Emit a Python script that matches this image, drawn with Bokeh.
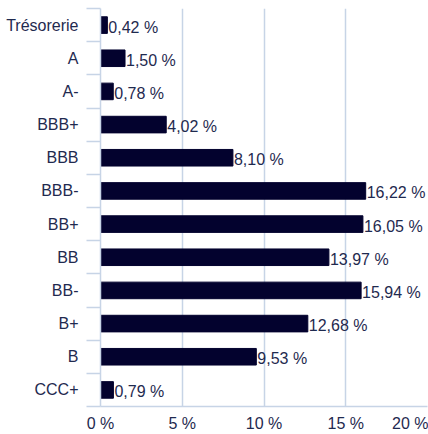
from bokeh.plotting import figure
from bokeh.models import Range1d, FixedTicker, ColumnDataSource
from bokeh.core.properties import value
from bokeh.embed import file_html
from bokeh.resources import INLINE

categories = ["Trésorerie", "A", "A-", "BBB+", "BBB", "BBB-", "BB+", "BB", "BB-", "B+", "B", "CCC+"]
values = [0.42, 1.50, 0.78, 4.02, 8.10, 16.22, 16.05, 13.97, 15.94, 12.68, 9.53, 0.79]
x_ticks = [0, 5, 10, 15, 20]

FONT = "Liberation Sans"
TEXT = "#1f2a4f"
BAR = "#03022e"
GRID = "#c7d4e6"

n = len(categories)
centers = [i + 0.5 for i in range(n)]
labels = [f"{v:.2f}".replace(".", ",") + " %" for v in values]
src = ColumnDataSource(dict(y=centers, v=values, lab=labels))

p = figure(width=428, height=434, output_backend="svg", toolbar_location=None,
           x_range=Range1d(0, 20), y_range=Range1d(n, 0),
           min_border_left=100, min_border_right=1, min_border_top=8, min_border_bottom=20)
p.outline_line_color = None
p.background_fill_color = "white"
p.border_fill_color = "white"

p.hbar(y="y", right="v", left=0, height=0.5, source=src, color=BAR)
p.text(x="v", y="y", text="lab", source=src, x_offset=1, y_offset=2,
       text_font=value(FONT), text_font_size="16px", text_color=TEXT,
       text_baseline="middle", text_align="left")

# x axis
p.xaxis.ticker = FixedTicker(ticks=x_ticks)
p.xaxis.major_label_overrides = {t: f"{t} %" for t in x_ticks}
p.xaxis.major_tick_line_color = None
p.xaxis.major_tick_out = 0
p.xaxis.major_tick_in = 0
p.xaxis.minor_tick_line_color = None
p.xaxis.minor_tick_out = 0
p.xaxis.axis_line_color = GRID
p.xaxis.axis_line_width = 1.5
p.xaxis.major_label_text_font = FONT
p.xaxis.major_label_text_font_size = "16px"
p.xaxis.major_label_text_color = TEXT
p.xaxis.major_label_standoff = 8

# y axis: labels at centers, ticks at boundaries
p.yaxis.ticker = FixedTicker(ticks=centers, minor_ticks=list(range(n + 1)))
p.yaxis.major_label_overrides = {c: cat for c, cat in zip(centers, categories)}
p.yaxis.major_tick_line_color = None
p.yaxis.major_tick_out = 0
p.yaxis.major_tick_in = 0
p.yaxis.minor_tick_line_color = GRID
p.yaxis.minor_tick_line_width = 1.5
p.yaxis.minor_tick_out = 14
p.yaxis.minor_tick_in = 0
p.yaxis.axis_line_color = GRID
p.yaxis.axis_line_width = 1.5
p.yaxis.major_label_text_font = FONT
p.yaxis.major_label_text_font_size = "16px"
p.yaxis.major_label_text_color = TEXT
p.yaxis.major_label_standoff = 8

p.xgrid.ticker = FixedTicker(ticks=[5, 10, 15, 20])
p.xgrid.grid_line_color = GRID
p.xgrid.grid_line_width = 1.5
p.ygrid.grid_line_color = None

open("out.html", "w").write(file_html(p, INLINE))
